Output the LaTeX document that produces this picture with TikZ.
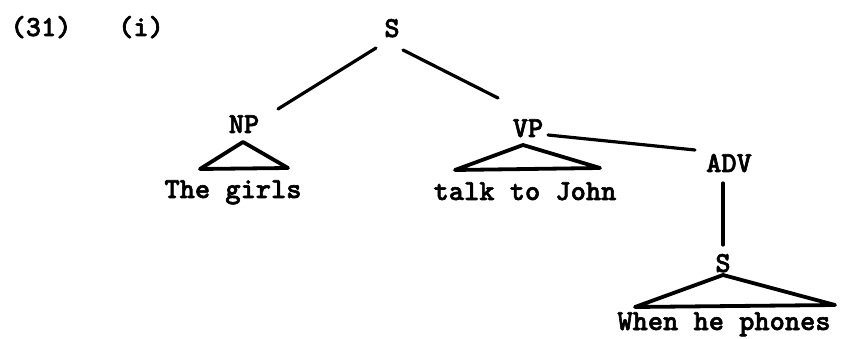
\documentclass[tikz,border=0pt]{standalone}
\usepackage{fontspec}
% heavy typewriter face for all labels
\newfontfamily\typer{lmmonolt10-bold}[Extension=.otf,FakeBold=2]
\begin{document}
\begin{tikzpicture}[x=1pt,y=-1pt,
  lab/.style={anchor=base,inner sep=0pt,font=\typer\fontsize{29}{33}\selectfont},
  branch/.style={line width=3.2pt,line cap=round},
  roof/.style={line width=3.8pt,line join=round,line cap=round}]
\useasboundingbox (0,0) rectangle (841,339);

% example numbers
\node[lab] (num) at (41,36) {(31)};
\node[lab] (sub) at (141,36) {(i)};

% category labels
\node[lab] (S)   at (392,37)  {S};
\node[lab] (NP)  at (244,133) {NP};
\node[lab] (VP)  at (528,137) {VP};
\node[lab] (ADV) at (729,172) {ADV};
\node[lab] (S2)  at (723,272) {S};

% terminal strings
\node[lab] (w1) at (233,198) {The girls};
\node[lab] (w2) at (525,200) {talk to John};
\node[lab] (w3) at (724,330) {When he phones};

% branch end points
\coordinate (sA)   at (376,48);
\coordinate (npA)  at (278,109);
\coordinate (sB)   at (403,50);
\coordinate (vpA)  at (498,98);
\coordinate (vpB)  at (548,135);
\coordinate (advA) at (695,150);
\coordinate (advB) at (723,183);
\coordinate (s2A)  at (723,245);

\draw[branch] (sA) -- (npA);
\draw[branch] (sB) -- (vpA);
\draw[branch] (vpB) -- (advA);
\draw[branch] (advB) -- (s2A);

% triangles over unanalysed constituents
\draw[roof] (243,142) -- (200,169) -- (288,168) -- cycle;
\draw[roof] (523,145) -- (455,170) -- (600,168) -- cycle;
\draw[roof] (723,275) -- (635,307) -- (835,305) -- cycle;
\end{tikzpicture}
\end{document}
